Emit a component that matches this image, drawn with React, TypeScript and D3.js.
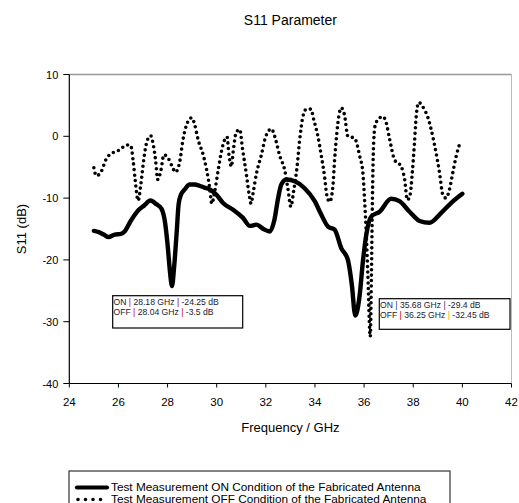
import React from "react";
import * as d3 from "d3";

const onFreq = [25.0, 25.2, 25.4, 25.6, 25.85, 26.1, 26.25, 26.5, 26.8, 27.05, 27.3, 27.55, 27.75, 27.9, 28.0, 28.1, 28.18, 28.27, 28.37, 28.45, 28.55, 28.7, 28.9, 29.1, 29.3, 29.5, 29.72, 29.99, 30.26, 30.67, 31.07, 31.35, 31.62, 31.9, 32.16, 32.35, 32.5, 32.63, 32.84, 33.2, 33.58, 33.99, 34.26, 34.53, 34.8, 35.07, 35.34, 35.5, 35.64, 35.82, 35.95, 36.09, 36.29, 36.63, 37.1, 37.44, 37.85, 38.26, 38.66, 39.14, 39.54, 40.0];
const onDb = [-15.3, -15.5, -15.9, -16.3, -15.9, -15.8, -15.4, -13.7, -12.0, -11.2, -10.4, -11.0, -11.7, -14.0, -17.5, -22.0, -24.25, -21.0, -15.6, -11.0, -9.4, -8.6, -7.8, -7.8, -8.0, -8.3, -8.6, -9.45, -10.8, -11.9, -13.2, -14.5, -14.3, -15.0, -15.4, -13.5, -10.0, -7.8, -7.0, -7.3, -8.4, -10.5, -12.7, -14.6, -15.1, -18.1, -20.0, -24.0, -29.0, -25.7, -20.3, -15.9, -13.0, -12.2, -10.1, -10.5, -12.2, -13.7, -14.0, -12.4, -10.8, -9.3];

const offFreq = [25.0, 25.1, 25.3, 25.5, 25.8, 26.05, 26.33, 26.5, 26.6, 26.68, 26.8, 26.92, 27.05, 27.15, 27.31, 27.42, 27.51, 27.6, 27.73, 27.85, 28.02, 28.19, 28.32, 28.5, 28.63, 28.77, 28.98, 29.11, 29.24, 29.45, 29.59, 29.72, 29.8, 29.92, 30.06, 30.19, 30.33, 30.42, 30.5, 30.6, 30.67, 30.8, 30.94, 31.05, 31.21, 31.32, 31.4, 31.48, 31.62, 31.82, 32.0, 32.23, 32.36, 32.57, 32.77, 32.9, 33.02, 33.13, 33.27, 33.38, 33.51, 33.65, 33.85, 33.92, 34.12, 34.26, 34.39, 34.48, 34.6, 34.73, 34.8, 34.89, 34.98, 35.07, 35.2, 35.34, 35.61, 35.82, 35.95, 36.02, 36.08, 36.15, 36.25, 36.3, 36.34, 36.38, 36.45, 36.55, 36.76, 36.9, 37.04, 37.24, 37.51, 37.65, 37.76, 37.87, 37.96, 38.05, 38.12, 38.23, 38.35, 38.46, 38.6, 38.73, 38.93, 39.07, 39.2, 39.33, 39.45, 39.61, 39.75, 39.9];
const offDb = [-5.1, -6.4, -5.7, -3.7, -2.6, -2.2, -1.4, -1.5, -4.0, -7.0, -10.4, -7.5, -3.2, -1.0, 0.1, -1.4, -3.8, -7.0, -5.5, -3.0, -3.5, -4.9, -5.8, -4.0, -0.5, 1.8, 3.0, 1.8, -0.5, -3.0, -5.4, -8.5, -10.9, -8.9, -5.5, -2.5, -0.5, -0.1, -3.0, -4.9, -2.5, 0.7, 1.1, -2.0, -6.2, -9.4, -10.9, -9.2, -6.0, -3.0, 0.0, 1.2, 0.0, -3.2, -5.5, -8.5, -11.4, -8.9, -5.0, -0.5, 3.2, 4.4, 4.4, 3.2, 0.0, -3.2, -6.5, -9.5, -10.6, -8.1, -3.8, 0.5, 3.5, 4.6, 3.5, 0.0, -0.3, -3.2, -5.9, -10.3, -15.0, -22.0, -32.45, -22.0, -10.0, -2.0, 1.8, 2.6, 3.2, 2.2, -0.5, -3.8, -4.9, -7.0, -10.3, -9.5, -6.0, -1.1, 3.2, 5.5, 5.0, 4.3, 3.0, 1.1, -2.7, -5.9, -9.4, -10.0, -9.0, -5.9, -3.2, -1.1];

const xTicks = [24, 26, 28, 30, 32, 34, 36, 38, 40, 42];
const yTicks = [10, 0, -10, -20, -30, -40];

const FONT = "Arial, 'Liberation Sans', Helvetica, sans-serif";

export default function App() {
  const x = d3.scaleLinear().domain([24, 42]).range([69.3, 511.5]);
  const y = d3.scaleLinear().domain([-40, 10]).range([383.5, 74.5]);

  const line = d3
    .line<[number, number]>()
    .x((d) => x(d[0]))
    .y((d) => y(d[1]))
    .curve(d3.curveMonotoneX);

  const onPts: [number, number][] = onFreq.map((f, i) => [f, onDb[i]]);
  const offPts: [number, number][] = offFreq.map((f, i) => [f, offDb[i]]);

  const x0 = x(24), x1 = x(42), yTop = y(10), yBot = y(-40);
  const cx = (x0 + x1) / 2;

  return (
    <svg
      width={519}
      height={503}
      style={{ position: "absolute", left: 0, top: 0, background: "#fff" }}
      fontFamily={FONT}
    >
      <rect width={519} height={503} fill="#fff" />
      <text x={cx} y={25} fontSize={14} textAnchor="middle" fill="#000">S11 Parameter</text>

      {/* frame */}
      <line x1={x0} x2={x1} y1={yTop} y2={yTop} stroke="#999" strokeWidth={1.5} />
      <line x1={x1} x2={x1} y1={yTop} y2={yBot} stroke="#bbb" strokeWidth={1} />
      <line x1={x0} x2={x0} y1={yTop} y2={yBot} stroke="#000" strokeWidth={1.2} />
      <line x1={x0} x2={x1} y1={yBot} y2={yBot} stroke="#000" strokeWidth={1.2} />

      {yTicks.map((t) => (
        <g key={"y" + t}>
          <line x1={x0 - 6} x2={x0} y1={y(t)} y2={y(t)} stroke="#000" strokeWidth={1} />
          <text x={x0 - 11} y={y(t) + 4} fontSize={11} textAnchor="end" fill="#000">{t}</text>
        </g>
      ))}
      {xTicks.map((t) => (
        <g key={"x" + t}>
          <line x1={x(t)} x2={x(t)} y1={yBot} y2={yBot + 4} stroke="#000" strokeWidth={1} />
          <text x={x(t)} y={yBot + 22} fontSize={11.5} textAnchor="middle" fill="#000">{t}</text>
        </g>
      ))}

      <text x={cx} y={432} fontSize={13} textAnchor="middle" fill="#000">Frequency / GHz</text>
      <text transform={`translate(26, ${(yTop + yBot) / 2}) rotate(-90)`} fontSize={13} textAnchor="middle" fill="#000">S11 (dB)</text>

      <path d={line(offPts) || ""} fill="none" stroke="#000" strokeWidth={3.6} strokeDasharray="0 5.5" strokeLinecap="round" />
      <path d={line(onPts) || ""} fill="none" stroke="#000" strokeWidth={4.4} strokeLinejoin="round" strokeLinecap="round" />

      {/* annotations */}
      <rect x={112.7} y={295.7} width={130} height={32.3} fill="#fff" stroke="#000" strokeWidth={1.2} />
      <text x={113.5} y={304.5} fontSize={8.6} fill="#1a1a2e">
        ON <tspan fill="#c00000">|</tspan> 28.18 GHz <tspan fill="#8b0000">|</tspan> -24.25 dB
      </text>
      <text x={113.5} y={314.5} fontSize={8.6} fill="#1a1a2e">
        OFF <tspan fill="#c00000">|</tspan> 28.04 GHz <tspan fill="#c00000">|</tspan> -3.5 dB
      </text>

      <rect x={379.3} y={298.7} width={130.7} height={30.6} fill="#fff" stroke="#000" strokeWidth={1.2} />
      <text x={380} y={308} fontSize={8.6} fill="#1a1a2e">
        ON <tspan fill="#1f2f8f">|</tspan> 35.68 GHz <tspan fill="#3a2f8f">|</tspan> -29.4 dB
      </text>
      <text x={380} y={318} fontSize={8.6} fill="#1a1a2e">
        OFF <tspan fill="#c00000">|</tspan> 36.25 GHz <tspan fill="#e0b000">|</tspan> -32.45 dB
      </text>

      {/* legend */}
      <rect x={69} y={471} width={381} height={40} fill="#fff" stroke="#333" strokeWidth={1.2} />
      <line x1={77} x2={107} y1={487.5} y2={487.5} stroke="#000" strokeWidth={4.2} strokeLinecap="round" />
      <line x1={78} x2={102} y1={499.5} y2={499.5} stroke="#000" strokeWidth={3.6} strokeDasharray="0 7.5" strokeLinecap="round" />
      <text x={111} y={490.5} fontSize={11.8} fill="#000">Test Measurement ON Condition of the Fabricated Antenna</text>
      <text x={111} y={502.5} fontSize={11.8} fill="#000">Test Measurement OFF Condition of the Fabricated Antenna</text>
    </svg>
  );
}
